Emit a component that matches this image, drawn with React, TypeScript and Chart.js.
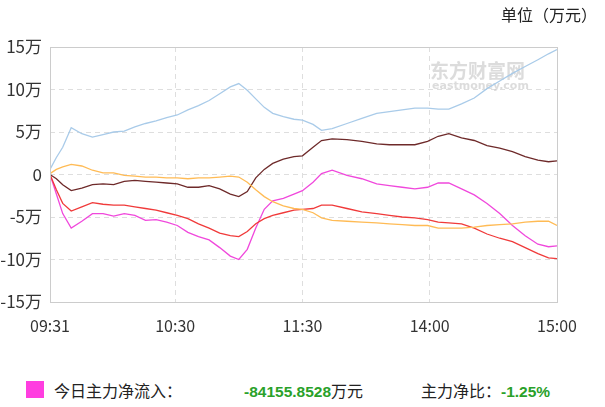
import React, { useEffect, useRef } from "react";
import { Chart, registerables } from "chart.js";

Chart.register(...registerables);

// minute index (0 = 09:31, 119 = 11:30, 120 = 13:01, 239 = 15:00)
const minuteIdx = [0, 3, 6, 10, 15, 20, 25, 30, 35, 40, 45, 50, 55, 60, 65, 70, 75, 80, 85, 89, 93, 97, 101, 105, 110, 115, 119, 124, 128, 133, 140, 147, 154, 160, 166, 172, 178, 183, 188, 194, 200, 206, 212, 218, 224, 230, 235, 239];

// values in 万 (x 万元)
const mainNet = [0, -2.3, -4.6, -6.3, -5.5, -4.6, -4.6, -4.9, -4.6, -4.8, -5.4, -5.3, -5.6, -6.0, -6.8, -7.3, -7.7, -8.6, -9.6, -10.0, -8.8, -6.3, -4.1, -3.1, -2.8, -2.3, -1.9, -0.9, 0.1, 0.5, -0.1, -0.5, -1.1, -1.3, -1.5, -1.7, -1.5, -1.0, -1.0, -1.7, -2.4, -3.4, -4.6, -6.0, -7.2, -8.2, -8.5, -8.4];
const superLarge = [0, -0.5, -1.2, -1.9, -1.6, -1.2, -1.1, -1.2, -0.8, -0.7, -0.8, -0.9, -1.0, -1.1, -1.5, -1.5, -1.3, -1.7, -2.3, -2.6, -2.0, -0.4, 0.6, 1.3, 1.8, 2.1, 2.2, 3.2, 4.0, 4.2, 4.1, 3.9, 3.6, 3.5, 3.5, 3.5, 3.9, 4.5, 4.8, 4.3, 4.0, 3.4, 3.1, 2.7, 2.1, 1.7, 1.5, 1.6];
const large = [0, -1.8, -3.4, -4.3, -3.8, -3.3, -3.5, -3.6, -3.6, -3.8, -4.0, -4.2, -4.5, -4.8, -5.2, -5.8, -6.3, -6.9, -7.2, -7.3, -6.7, -5.8, -5.2, -4.8, -4.5, -4.2, -4.1, -4.0, -3.6, -3.6, -4.0, -4.4, -4.6, -4.8, -5.0, -5.1, -5.3, -5.6, -5.7, -5.8, -6.3, -7.0, -7.5, -7.9, -8.6, -9.3, -9.8, -9.9];
const medium = [0.1, 0.6, 0.9, 1.2, 1.0, 0.5, 0.2, 0.2, -0.1, -0.2, -0.3, -0.3, -0.4, -0.4, -0.5, -0.4, -0.4, -0.3, -0.2, -0.3, -0.9, -1.8, -2.6, -3.2, -3.7, -4.0, -4.1, -4.5, -5.1, -5.4, -5.5, -5.6, -5.7, -5.8, -5.9, -6.0, -6.0, -6.3, -6.3, -6.3, -6.2, -6.0, -5.9, -5.8, -5.6, -5.5, -5.5, -6.0];
const small = [0.6, 2.0, 3.2, 5.5, 4.8, 4.4, 4.7, 5.0, 5.1, 5.6, 6.0, 6.3, 6.7, 7.0, 7.6, 8.1, 8.7, 9.5, 10.3, 10.7, 9.9, 8.9, 7.9, 7.2, 6.8, 6.5, 6.4, 5.9, 5.2, 5.4, 6.0, 6.6, 7.2, 7.4, 7.6, 7.8, 7.8, 7.7, 7.7, 8.3, 9.0, 10.1, 11.0, 11.9, 12.7, 13.5, 14.2, 14.7];

const xTickIdx = [0, 59, 119, 179, 239];
const xTickLabels = ["09:31", "10:30", "11:30", "14:00", "15:00"];
const yTicks = [-15, -10, -5, 0, 5, 10, 15];

const seriesList = [
  { name: "小单", data: small, color: "#a9cbe9" },
  { name: "中单", data: medium, color: "#ffbb55" },
  { name: "大单", data: large, color: "#f03a3a" },
  { name: "超大单", data: superLarge, color: "#6e2a2a" },
  { name: "主力", data: mainNet, color: "#f048dc" },
];

const FONT = '"Noto Sans CJK SC", "Noto Sans", sans-serif';

export default function App() {
  const ref = useRef<HTMLCanvasElement | null>(null);

  useEffect(() => {
    if (!ref.current) return;
    const framePlugin = {
      id: "frame",
      beforeDatasetsDraw(chart: any) {
        const { ctx } = chart;
        ctx.save();
        // watermark
        ctx.fillStyle = "rgba(185,185,185,0.5)";
        ctx.font = 'bold 19px "Noto Sans CJK SC", sans-serif';
        ctx.textBaseline = "middle";
        ctx.fillText("东方财富网", 430, 71);
        ctx.font = 'bold 11px "DejaVu Sans", sans-serif';
        ctx.fillText("eastmoney.com", 432, 86);
        ctx.restore();
      },
      afterDraw(chart: any) {
        const { ctx, chartArea: a } = chart;
        ctx.save();
        ctx.strokeStyle = "#cccccc";
        ctx.lineWidth = 1;
        ctx.strokeRect(Math.round(a.left) + 0.5, Math.round(a.top) + 0.5, Math.round(a.right - a.left), Math.round(a.bottom - a.top));
        ctx.restore();
      },
    };

    const chart = new Chart(ref.current, {
      type: "line",
      data: {
        datasets: seriesList.map((s) => ({
          label: s.name,
          data: minuteIdx.map((m, i) => ({ x: m, y: s.data[i] })),
          borderColor: s.color,
          borderWidth: 1.3,
          pointRadius: 0,
          tension: 0,
          fill: false,
        })),
      },
      options: {
        responsive: false,
        animation: false,
        devicePixelRatio: 1,
        layout: { padding: { top: 47, right: 48, left: 0, bottom: 0 } },
        plugins: { legend: { display: false }, tooltip: { enabled: false } },
        scales: {
          x: {
            type: "linear",
            min: 0,
            max: 239,
            afterBuildTicks: (scale: any) => {
              scale.ticks = xTickIdx.map((v) => ({ value: v }));
            },
            afterFit: (scale: any) => {
              scale.height = 43;
            },
            ticks: {
              autoSkip: false,
              maxRotation: 0,
              padding: 14,
              color: "#333",
              font: { size: 16, family: FONT },
              callback: (v: any) => {
                const k = xTickIdx.indexOf(Number(v));
                return k >= 0 ? xTickLabels[k] : "";
              },
            },
            grid: { color: "#dedede", drawTicks: false, lineWidth: 1 },
            border: { display: false, dash: [5, 4] },
          },
          y: {
            min: -15,
            max: 15,
            afterBuildTicks: (scale: any) => {
              scale.ticks = yTicks.map((v) => ({ value: v }));
            },
            afterFit: (scale: any) => {
              scale.width = 50;
            },
            ticks: {
              padding: 8,
              color: "#333",
              font: { size: 17, family: FONT },
              callback: (v: any) => (Number(v) === 0 ? "0" : v + "万"),
            },
            grid: { color: "#dedede", drawTicks: false, lineWidth: 1 },
            border: { display: false, dash: [5, 4] },
          },
        },
      },
      plugins: [framePlugin],
    } as any);
    return () => chart.destroy();
  }, []);

  return (
    <div style={{ position: "absolute", left: 0, top: 0, width: 605, height: 407, background: "#fff", fontFamily: FONT, overflow: "hidden" }}>
      <canvas ref={ref} width={605} height={345} style={{ position: "absolute", left: 0, top: 0 }} />
      <div style={{ position: "absolute", left: 501, top: 3, fontSize: 16, color: "#222", whiteSpace: "nowrap", lineHeight: "22px" }}>单位（万元）</div>
      <div style={{ position: "absolute", left: 26, top: 381, width: 18, height: 17, background: "#ff3ee0" }} />
      <div style={{ position: "absolute", left: 54, top: 379, fontSize: 16, color: "#222", whiteSpace: "nowrap", lineHeight: "22px" }}>今日主力净流入：</div>
      <div style={{ position: "absolute", left: 244, top: 379, fontSize: 16, color: "#222", whiteSpace: "nowrap", lineHeight: "22px" }}>
        <span style={{ color: "#2aa12a", fontWeight: "bold", fontFamily: '"Liberation Sans", Arial, sans-serif', fontSize: 15.5 }}>-84155.8528</span>万元
      </div>
      <div style={{ position: "absolute", left: 421, top: 379, fontSize: 16, color: "#222", whiteSpace: "nowrap", lineHeight: "22px" }}>
        主力净比：<span style={{ color: "#2aa12a", fontWeight: "bold", fontFamily: '"Liberation Sans", Arial, sans-serif', fontSize: 15.5 }}>-1.25%</span>
      </div>
    </div>
  );
}
